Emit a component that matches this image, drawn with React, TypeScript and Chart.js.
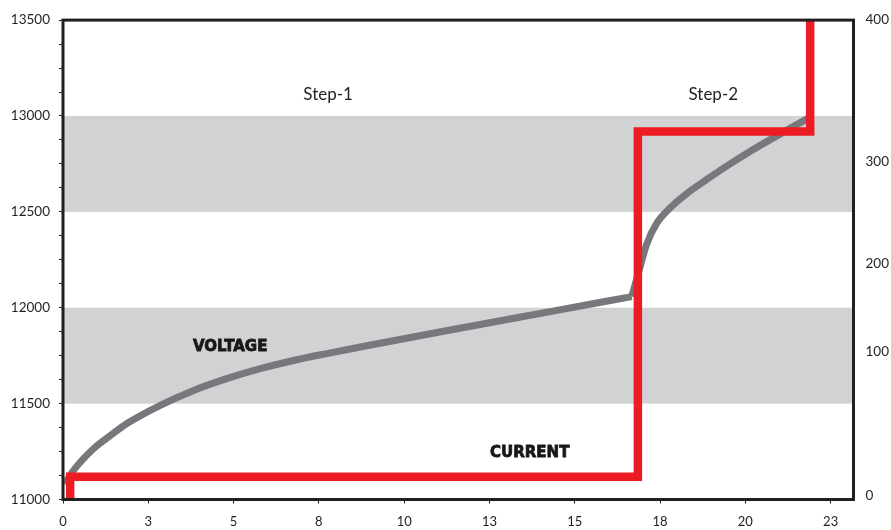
import React, { useEffect, useRef } from "react";
import { Chart, registerables } from "chart.js";

Chart.register(...registerables);

// ---- data ----
// Voltage, step 1 (bulk charge)
const voltage1X = [0.05, 0.3, 0.9, 1.4, 1.875, 2.85, 3.83, 4.8, 5.78, 6.76, 7.73, 8.71, 11.35, 14.28, 16.67];
const voltage1Y = [11080, 11150, 11266, 11335, 11396, 11491, 11569, 11630, 11682, 11725, 11761, 11795, 11884, 11980, 12058];
// Voltage, step 2
const voltage2X = [16.67, 16.91, 17.11, 17.4, 17.79, 18.28, 18.8, 19.26, 20.23, 21.21, 21.85];
const voltage2Y = [12058, 12210, 12332, 12440, 12520, 12595, 12660, 12716, 12825, 12925, 12989];

const currentX = [0.21, 0.21, 16.85, 16.85, 21.9, 21.9];
const currentY = [-10, 19, 19, 307, 307, 430];

const xTickValues = [0, 2.5, 5, 7.5, 10, 12.5, 15, 17.5, 20, 22.5];
const xTickLabels = ["0", "3", "5", "8", "10", "13", "15", "18", "20", "23"];

const rightTickValues = [3, 123, 197, 282, 400];
const rightTickLabels = ["0", "100", "200", "300", "400"];

const bands: [number, number][] = [
  [11500, 12000],
  [12500, 13000],
];

const annotations = [
  { text: "Step-1", x: 7.77, y: 13113, bold: false },
  { text: "Step-2", x: 19.06, y: 13113, bold: false },
  { text: "VOLTAGE", x: 4.9, y: 11793, bold: true },
  { text: "CURRENT", x: 13.68, y: 11244, bold: true },
];

const TEXT = "#231f20";
const FONT = "Lato, 'Open Sans', sans-serif";
const GRAY = "#77787b";

const bandsPlugin = {
  id: "bands",
  beforeDatasetsDraw(chart: any) {
    const { ctx, chartArea, scales } = chart;
    ctx.save();
    ctx.fillStyle = "#d1d2d4";
    bands.forEach(([a, b]) => {
      const y1 = scales.y.getPixelForValue(b);
      const y2 = scales.y.getPixelForValue(a);
      ctx.fillRect(chartArea.left, y1, chartArea.right - chartArea.left, y2 - y1);
    });
    ctx.restore();
  },
  afterDatasetsDraw(chart: any) {
    const { ctx, chartArea, scales } = chart;
    ctx.save();
    annotations.forEach((a) => {
      const px = scales.x.getPixelForValue(a.x);
      const py = scales.y.getPixelForValue(a.y);
      ctx.textAlign = "center";
      ctx.textBaseline = "middle";
      if (a.bold) {
        ctx.font = "bold 15px 'DejaVu Sans', sans-serif";
        ctx.fillStyle = "#1a1718";
        ctx.strokeStyle = "#1a1718";
        ctx.lineWidth = 0.8;
        ctx.fillText(a.text, px, py);
        ctx.strokeText(a.text, px, py);
      } else {
        ctx.font = `17px ${FONT}`;
        ctx.fillStyle = TEXT;
        ctx.fillText(a.text, px, py);
      }
    });
    ctx.strokeStyle = "#231f20";
    ctx.lineWidth = 3;
    ctx.strokeRect(chartArea.left, chartArea.top, chartArea.right - chartArea.left, chartArea.bottom - chartArea.top);
    ctx.restore();
  },
};

export default function App() {
  const ref = useRef<HTMLCanvasElement>(null);
  useEffect(() => {
    if (!ref.current) return;
    const voltageStyle = {
      yAxisID: "y",
      borderColor: GRAY,
      borderWidth: 7,
      pointRadius: 0,
      cubicInterpolationMode: "monotone" as const,
      borderCapStyle: "butt" as const,
      borderJoinStyle: "round" as const,
      clip: 0 as any,
    };
    const chart = new Chart(ref.current, {
      type: "line",
      data: {
        datasets: [
          {
            label: "Current",
            data: currentX.map((x, i) => ({ x, y: currentY[i] })),
            yAxisID: "y2",
            borderColor: "#ed1c24",
            borderWidth: 8.5,
            pointRadius: 0,
            tension: 0,
            borderJoinStyle: "miter",
            borderCapStyle: "butt",
            clip: 0 as any,
          },
          {
            label: "Voltage (step 1)",
            data: voltage1X.map((x, i) => ({ x, y: voltage1Y[i] })),
            ...voltageStyle,
          },
          {
            label: "Voltage (step 2)",
            data: voltage2X.map((x, i) => ({ x, y: voltage2Y[i] })),
            ...voltageStyle,
          },
        ],
      },
      options: {
        animation: false,
        responsive: false,
        maintainAspectRatio: false,
        layout: { padding: { top: 18.5, left: 0, right: 0, bottom: 0 } },
        plugins: { legend: { display: false }, tooltip: { enabled: false } },
        scales: {
          x: {
            type: "linear",
            min: 0,
            max: 23.17,
            afterBuildTicks: (s: any) => {
              s.ticks = xTickValues.map((v) => ({ value: v }));
            },
            afterFit: (s: any) => {
              s.height = 30.5;
            },
            grid: { drawOnChartArea: false, drawTicks: true, tickLength: 4, color: "#231f20" },
            border: { display: false },
            ticks: {
              autoSkip: false,
              maxRotation: 0,
              padding: 11,
              color: TEXT,
              font: { family: FONT, size: 13 },
              callback: (_v: any, i: number) => xTickLabels[i],
            },
          },
          y: {
            type: "linear",
            position: "left",
            min: 11000,
            max: 13500,
            afterFit: (s: any) => {
              s.width = 63;
            },
            grid: { drawOnChartArea: false, drawTicks: true, tickLength: 4, color: "#231f20" },
            border: { display: false },
            ticks: {
              stepSize: 125,
              autoSkip: false,
              padding: 9,
              color: TEXT,
              font: { family: FONT, size: 13.5 },
              callback: (v: any) => (Number(v) % 500 === 0 ? String(v) : ""),
            },
          },
          y2: {
            type: "linear",
            position: "right",
            min: 0,
            max: 400,
            afterBuildTicks: (s: any) => {
              s.ticks = rightTickValues.map((v) => ({ value: v }));
            },
            afterFit: (s: any) => {
              s.width = 37.5;
            },
            grid: { display: false, drawTicks: false },
            border: { display: false },
            ticks: {
              autoSkip: false,
              padding: 12,
              color: TEXT,
              font: { family: FONT, size: 13.5 },
              callback: (_v: any, i: number) => rightTickLabels[i],
            },
          },
        },
      },
      plugins: [bandsPlugin],
    });
    return () => chart.destroy();
  }, []);
  return (
    <div style={{ position: "absolute", left: 0, top: 0, width: 891, height: 530, background: "#fff" }}>
      <canvas ref={ref} width={891} height={530} style={{ width: 891, height: 530 }} />
    </div>
  );
}
